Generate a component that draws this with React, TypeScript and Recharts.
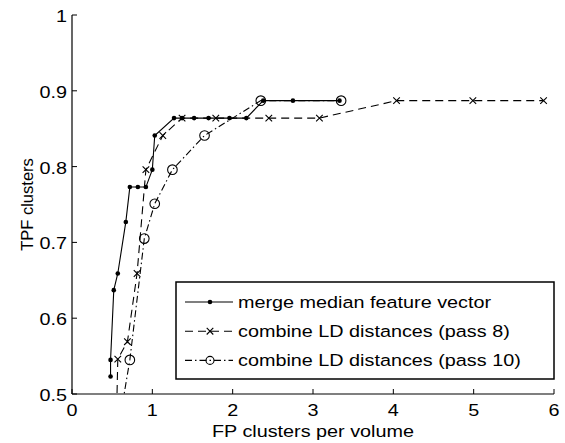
import React from "react";
import { LineChart, Line, XAxis, YAxis } from "recharts";

// axis ticks
const xTicks = [0, 1, 2, 3, 4, 5, 6];
const yTicks = [0.5, 0.6, 0.7, 0.8, 0.9, 1];

// merge median feature vector
const mergeX = [0.48, 0.48, 0.52, 0.57, 0.67, 0.72, 0.82, 0.92, 1.0, 1.03, 1.27, 1.37, 1.52, 1.7, 1.96, 2.17, 2.38, 2.75, 3.33];
const mergeY = [0.523, 0.545, 0.637, 0.659, 0.727, 0.773, 0.773, 0.773, 0.796, 0.841, 0.864, 0.864, 0.864, 0.864, 0.864, 0.864, 0.887, 0.887, 0.887];

// combine LD distances (pass 8)
const pass8X = [0.55, 0.57, 0.69, 0.81, 0.92, 1.13, 1.37, 1.79, 2.45, 3.08, 4.04, 4.99, 5.87];
const pass8Y = [0.45, 0.546, 0.569, 0.659, 0.796, 0.841, 0.864, 0.864, 0.864, 0.864, 0.887, 0.887, 0.887];

// combine LD distances (pass 10)
const pass10X = [0.57, 0.72, 0.9, 1.03, 1.25, 1.65, 2.35, 3.35];
const pass10Y = [0.45, 0.545, 0.705, 0.751, 0.796, 0.841, 0.887, 0.887];

const toPoints = (xs: number[], ys: number[]) => xs.map((x, i) => ({ x, y: ys[i] }));

const FONT = "'Liberation Sans', Arial, Helvetica, sans-serif";
const FS = 16.5;
const SX = 1.2; // the source figure is stretched sideways
const TICK = 5;

// text stretched horizontally, anchored at (x, y)
const SText = ({ x, y, anchor = "start", children }: any) => (
  <text
    transform={`translate(${x},${y}) scale(${SX},1)`}
    x={0}
    y={0}
    textAnchor={anchor}
    fontSize={FS}
    fontFamily={FONT}
    fill="#000"
  >
    {children}
  </text>
);

const SmallDot = (props: any) => {
  const { cx, cy, index } = props;
  if (cx == null || cy == null) return <g key={index} />;
  return <circle key={index} cx={cx} cy={cy} r={2.3} fill="#000" />;
};

const CrossDot = (props: any) => {
  const { cx, cy, index } = props;
  if (cx == null || cy == null) return <g key={index} />;
  const s = 3.3;
  return (
    <path
      key={index}
      d={`M${cx - s},${cy - s}L${cx + s},${cy + s}M${cx - s},${cy + s}L${cx + s},${cy - s}`}
      stroke="#000"
      strokeWidth={1.1}
    />
  );
};

const RingDot = (props: any) => {
  const { cx, cy, index, ring = 4.8 } = props;
  if (cx == null || cy == null) return <g key={index} />;
  return <circle key={index} cx={cx} cy={cy} r={ring} fill="none" stroke="#000" strokeWidth={1.1} />;
};

const series = [
  { name: "merge median feature vector", data: toPoints(mergeX, mergeY), dash: undefined, dot: SmallDot },
  { name: "combine LD distances (pass 8)", data: toPoints(pass8X, pass8Y), dash: "8 5", dot: CrossDot },
  { name: "combine LD distances (pass 10)", data: toPoints(pass10X, pass10Y), dash: "7 3 1.5 3", dot: RingDot },
];

const BottomTick = (props: any) => {
  const { x, y, payload } = props;
  return (
    <g>
      <line x1={x} y1={y} x2={x} y2={y - TICK} stroke="#000" strokeWidth={1} />
      <SText x={x} y={y + 21.5} anchor="middle">
        {payload.value}
      </SText>
    </g>
  );
};

const TopTick = (props: any) => {
  const { x, y } = props;
  return <line x1={x} y1={y} x2={x} y2={y + TICK} stroke="#000" strokeWidth={1} />;
};

const LeftTick = (props: any) => {
  const { x, y, payload } = props;
  return (
    <g>
      <line x1={x} y1={y} x2={x + TICK} y2={y} stroke="#000" strokeWidth={1} />
      <SText x={x - 5} y={y + 7} anchor="end">
        {String(payload.value)}
      </SText>
    </g>
  );
};

const RightTick = (props: any) => {
  const { x, y } = props;
  return <line x1={x} y1={y} x2={x - TICK} y2={y} stroke="#000" strokeWidth={1} />;
};

const Legend = () => (
  <svg width={380} height={99} style={{ position: "absolute", left: 175, top: 281, display: "block" }}>
    <rect x={1} y={1} width={378} height={97} fill="#fff" stroke="#000" strokeWidth={1.5} />
    {series.map((s, i) => {
      const Dot = s.dot;
      const cy = 21 + i * 29.2;
      return (
        <g key={s.name}>
          <line x1={10} y1={cy} x2={58} y2={cy} stroke="#000" strokeWidth={1.1} strokeDasharray={s.dash} />
          <Dot cx={35} cy={cy} index={0} ring={4} />
          <SText x={63} y={cy + 6}>
            {s.name}
          </SText>
        </g>
      );
    })}
  </svg>
);

export default function App() {
  return (
    <div style={{ position: "absolute", left: 0, top: 0, width: 565, height: 443, background: "#fff" }}>
      <LineChart width={565} height={443} margin={{ top: 15, right: 11, bottom: 0, left: 0 }}>
        <XAxis
          xAxisId="b"
          type="number"
          dataKey="x"
          domain={[0, 6]}
          ticks={xTicks}
          allowDataOverflow
          height={49}
          tickSize={0}
          tickMargin={0}
          tickLine={false}
          axisLine={{ stroke: "#000", strokeWidth: 1.2 }}
          tick={<BottomTick />}
          label={(p: any) => {
            const vb = p.viewBox;
            return (
              <SText x={vb.x + vb.width / 2} y={436.5} anchor="middle">
                FP clusters per volume
              </SText>
            );
          }}
        />
        <XAxis
          xAxisId="t"
          orientation="top"
          type="number"
          dataKey="x"
          domain={[0, 6]}
          ticks={xTicks}
          height={0}
          tickSize={0}
          tickMargin={0}
          tickLine={false}
          axisLine={{ stroke: "#000", strokeWidth: 1.2 }}
          tick={<TopTick />}
        />
        <YAxis
          yAxisId="l"
          type="number"
          dataKey="y"
          domain={[0.5, 1]}
          ticks={yTicks}
          allowDataOverflow
          width={72}
          tickSize={0}
          tickMargin={0}
          tickLine={false}
          axisLine={{ stroke: "#000", strokeWidth: 1.2 }}
          tick={<LeftTick />}
          label={(p: any) => {
            const vb = p.viewBox;
            const cx = 26.5;
            const cy = vb.y + vb.height / 2;
            return (
              <text
                x={cx}
                y={cy}
                transform={`rotate(-90 ${cx} ${cy})`}
                textAnchor="middle"
                dominantBaseline="central"
                fontSize={FS}
                fontFamily={FONT}
                fill="#000"
              >
                TPF clusters
              </text>
            );
          }}
        />
        <YAxis
          yAxisId="r"
          orientation="right"
          type="number"
          dataKey="y"
          domain={[0.5, 1]}
          ticks={yTicks}
          width={0}
          tickSize={0}
          tickMargin={0}
          tickLine={false}
          axisLine={{ stroke: "#000", strokeWidth: 1.2 }}
          tick={<RightTick />}
        />
        {series.map((s) => (
          <Line
            key={s.name}
            xAxisId="b"
            yAxisId="l"
            data={s.data}
            dataKey="y"
            name={s.name}
            type="linear"
            stroke="#000"
            strokeWidth={1.1}
            strokeDasharray={s.dash}
            dot={s.dot}
            activeDot={false}
            isAnimationActive={false}
          />
        ))}
      </LineChart>
      <Legend />
    </div>
  );
}
